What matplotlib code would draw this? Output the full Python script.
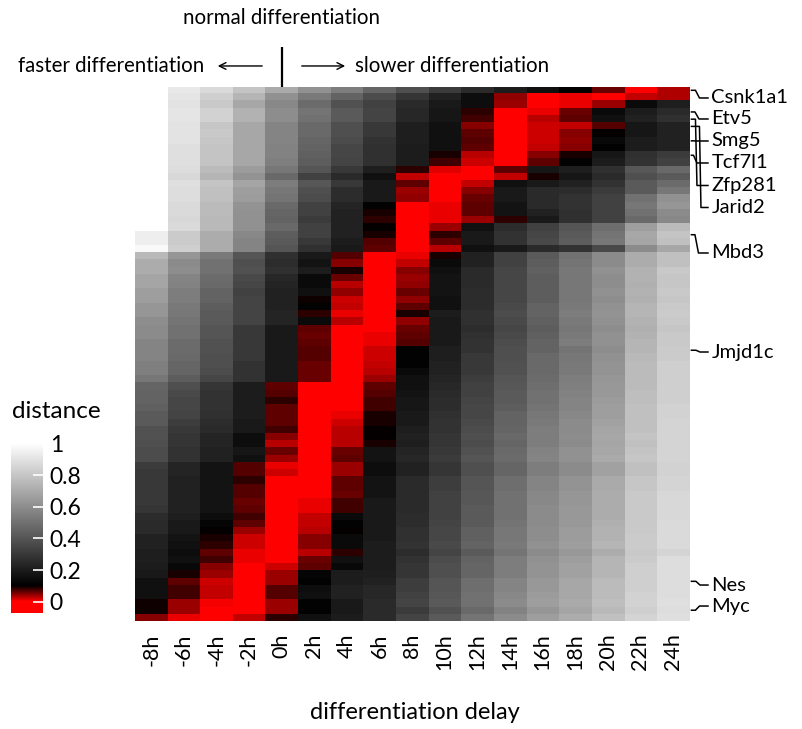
import numpy as np
import matplotlib
matplotlib.use("Agg")
import matplotlib.pyplot as plt
from matplotlib.colors import LinearSegmentedColormap, Normalize

plt.rcParams['font.family'] = ['Lato', 'DejaVu Sans']

nan = np.nan

# differentiation delay of each column
delays = ["-8h", "-6h", "-4h", "-2h", "0h", "2h", "4h", "6h", "8h",
          "10h", "12h", "14h", "16h", "18h", "20h", "22h", "24h"]

# distance per gene (rows) and delay (columns); nan = not computed
distance = [
    [nan, .92, .87, .79, .70, .61, .54, .46, .38, .31, .25, .20, .16, .10, .06, 0, .035],
    [nan, .91, .83, .74, .61, .53, .45, .37, .29, .22, .15, .045, 0, .01, 0, .025, .035],
    [nan, .90, .81, .69, .58, .48, .39, .33, .25, .19, .15, .04, 0, .01, .04, .14, .21],
    [nan, .91, .84, .73, .60, .51, .42, .34, .24, .18, .085, 0, .01, .06, .14, .20, .25],
    [nan, .91, .84, .73, .60, .50, .42, .34, .24, .18, .075, 0, .03, .065, .16, .22, .27],
    [nan, .90, .80, .69, .57, .47, .38, .30, .21, .16, .05, 0, .02, .025, .07, .18, .22],
    [nan, .90, .81, .69, .57, .47, .38, .30, .21, .16, .065, 0, .02, .05, .10, .18, .22],
    [nan, .90, .80, .69, .57, .46, .37, .28, .21, .16, .07, 0, .02, .045, .13, .20, .22],
    [nan, .89, .79, .69, .56, .45, .35, .27, .20, .16, .065, 0, .025, .05, .11, .20, .22],
    [nan, .89, .79, .69, .56, .44, .35, .27, .20, .09, .03, 0, .05, .09, .18, .27, .31],
    [nan, .89, .79, .69, .55, .43, .34, .27, .20, .075, .02, 0, .065, .11, .20, .28, .33],
    [nan, .88, .76, .65, .52, .40, .30, .21, .085, .015, 0, .065, .18, .21, .27, .41, .47],
    [nan, .86, .74, .62, .47, .33, .25, .16, .025, 0, 0, .025, .09, .18, .25, .38, .42],
    [nan, .89, .79, .68, .54, .41, .30, .19, .065, 0, .025, .16, .19, .22, .28, .42, .48],
    [nan, .88, .78, .66, .52, .38, .26, .19, .04, 0, .05, .19, .25, .26, .31, .42, .52],
    [nan, .88, .78, .65, .51, .37, .26, .19, .045, 0, .06, .19, .25, .28, .33, .50, .61],
    [nan, .87, .76, .62, .47, .33, .23, .11, 0, .01, .065, .17, .25, .28, .33, .52, .63],
    [nan, .87, .76, .61, .46, .33, .22, .09, 0, .01, .065, .17, .22, .27, .33, .50, .59],
    [nan, .86, .75, .61, .45, .31, .22, .085, 0, .01, .04, .085, .19, .27, .33, .47, .58],
    [nan, .87, .75, .61, .47, .33, .22, .10, 0, .04, .16, .26, .33, .40, .49, .66, .76],
    [.94, .82, .71, .58, .43, .33, .22, .09, 0, .085, .19, .28, .35, .42, .51, .69, .79],
    [.94, .82, .71, .57, .42, .30, .20, .07, 0, .065, .19, .28, .36, .43, .52, .68, .78],
    [.98, .83, .71, .57, .40, .27, .19, .065, 0, .03, .16, .19, .25, .28, .36, .59, .69],
    [.75, .63, .53, .40, .27, .19, .07, 0, .01, .09, .22, .33, .42, .50, .59, .71, .78],
    [.71, .59, .50, .38, .26, .17, .05, 0, .025, .14, .22, .33, .43, .51, .59, .71, .78],
    [.71, .60, .50, .39, .27, .20, .09, 0, .05, .16, .25, .35, .44, .52, .61, .73, .81],
    [.68, .57, .48, .36, .24, .14, .06, 0, .04, .17, .25, .35, .43, .52, .60, .73, .80],
    [.68, .56, .47, .35, .23, .14, .03, 0, .045, .17, .25, .35, .43, .52, .60, .72, .80],
    [.66, .54, .45, .33, .22, .16, .045, 0, .06, .17, .26, .35, .43, .52, .61, .73, .81],
    [.66, .54, .45, .34, .22, .095, .02, 0, .045, .16, .26, .35, .43, .52, .60, .72, .80],
    [.63, .53, .43, .34, .22, .11, .025, 0, .065, .16, .26, .36, .45, .53, .61, .74, .81],
    [.63, .52, .42, .34, .23, .085, .01, 0, .09, .20, .27, .37, .45, .54, .62, .74, .82],
    [.60, .51, .42, .34, .23, .14, .028, 0, .045, .19, .27, .36, .44, .53, .61, .73, .81],
    [.59, .50, .40, .30, .19, .065, 0, 0, .06, .19, .26, .35, .43, .52, .60, .72, .80],
    [.59, .50, .40, .30, .19, .06, 0, .01, .065, .19, .27, .36, .44, .53, .61, .73, .81],
    [.57, .48, .39, .30, .19, .065, 0, .01, .07, .19, .28, .37, .45, .54, .61, .74, .81],
    [.57, .48, .39, .30, .19, .07, 0, .02, .11, .21, .28, .38, .45, .51, .60, .74, .82],
    [.57, .47, .38, .30, .19, .07, 0, .022, .11, .21, .30, .38, .47, .52, .61, .75, .82],
    [.55, .46, .38, .28, .19, .06, 0, .025, .11, .22, .30, .39, .47, .53, .62, .76, .83],
    [.55, .46, .37, .28, .19, .06, 0, .03, .14, .22, .30, .39, .47, .53, .62, .76, .83],
    [.52, .43, .35, .28, .19, .06, 0, .04, .16, .23, .32, .40, .48, .54, .63, .76, .83],
    [.46, .38, .29, .20, .065, 0, 0, .065, .16, .24, .33, .41, .49, .55, .64, .76, .83],
    [.45, .36, .28, .20, .07, 0, 0, .07, .17, .25, .33, .42, .50, .56, .64, .77, .83],
    [.45, .35, .28, .20, .085, 0, 0, .075, .18, .26, .34, .42, .50, .57, .65, .77, .83],
    [.44, .35, .28, .20, .065, 0, 0, .075, .18, .26, .35, .43, .51, .57, .66, .78, .84],
    [.42, .34, .27, .20, .065, 0, .01, .09, .19, .27, .35, .45, .52, .58, .66, .78, .84],
    [.42, .32, .26, .19, .065, 0, .02, .09, .19, .28, .36, .45, .53, .59, .67, .78, .85],
    [.39, .30, .25, .19, .075, 0, .03, .10, .21, .28, .37, .46, .54, .59, .68, .78, .85],
    [.39, .29, .23, .15, .05, 0, .03, .10, .22, .29, .38, .47, .54, .60, .69, .79, .85],
    [.38, .29, .23, .15, .03, 0, .03, .09, .21, .29, .37, .46, .54, .59, .68, .78, .85],
    [.37, .28, .22, .18, .06, 0, .06, .17, .23, .30, .39, .47, .56, .61, .69, .79, .85],
    [.37, .28, .22, .16, .04, 0, .065, .17, .24, .31, .40, .48, .57, .61, .70, .80, .85],
    [.31, .23, .17, .07, .01, 0, .04, .15, .22, .29, .38, .46, .54, .59, .67, .78, .84],
    [.30, .23, .17, .07, .02, 0, .04, .15, .22, .29, .38, .46, .54, .59, .67, .78, .84],
    [.30, .22, .17, .085, 0, 0, .065, .17, .25, .32, .40, .49, .57, .62, .70, .80, .85],
    [.30, .22, .17, .07, 0, 0, .065, .17, .25, .32, .40, .49, .57, .62, .70, .80, .85],
    [.30, .22, .17, .07, 0, 0, .06, .17, .25, .33, .41, .50, .58, .63, .71, .81, .86],
    [.30, .22, .17, .06, 0, .01, .075, .19, .25, .33, .41, .50, .58, .63, .71, .81, .86],
    [.29, .22, .17, .065, 0, .01, .075, .19, .25, .33, .42, .50, .59, .64, .71, .81, .86],
    [.26, .21, .15, .075, 0, .025, .14, .19, .26, .33, .42, .50, .59, .64, .71, .81, .86],
    [.25, .19, .12, .065, 0, .025, .11, .19, .26, .34, .42, .51, .59, .64, .72, .81, .87],
    [.25, .19, .10, .04, 0, .03, .10, .19, .27, .35, .44, .52, .60, .65, .73, .81, .87],
    [.22, .17, .09, .022, 0, .05, .14, .19, .27, .35, .44, .52, .60, .65, .73, .82, .87],
    [.22, .16, .085, .022, 0, .05, .14, .20, .28, .36, .45, .53, .61, .66, .74, .82, .87],
    [.21, .15, .065, .01, 0, .03, .085, .20, .26, .34, .42, .51, .59, .64, .71, .81, .85],
    [.21, .16, .075, .01, 0, .06, .16, .20, .28, .37, .45, .54, .61, .66, .74, .82, .88],
    [.20, .13, .05, 0, .02, .065, .13, .20, .29, .38, .46, .54, .62, .67, .74, .83, .88],
    [.19, .09, .04, 0, .04, .12, .20, .21, .29, .38, .46, .54, .62, .67, .74, .83, .88],
    [.16, .065, .02, 0, .04, .11, .20, .22, .32, .40, .49, .57, .64, .69, .76, .83, .88],
    [.16, .075, .025, 0, .07, .15, .22, .24, .32, .40, .49, .57, .64, .69, .76, .83, .88],
    [.16, .075, .025, 0, .07, .16, .22, .24, .33, .41, .50, .58, .65, .69, .76, .84, .88],
    [.095, .04, .006, 0, .04, .11, .19, .25, .34, .42, .50, .59, .66, .70, .77, .84, .89],
    [.095, .04, 0, 0, .04, .11, .19, .25, .31, .39, .47, .56, .63, .68, .75, .83, .88],
    [.05, .01, 0, .025, .085, .16, .20, .25, .34, .42, .51, .59, .66, .71, .78, .85, .89],
]

# highlighted genes and the row each one belongs to
gene_names = ["Csnk1a1", "Etv5", "Smg5", "Tcf7l1", "Zfp281", "Jarid2",
              "Mbd3", "Jmjd1c", "Nes", "Myc"]
gene_rows = [0, 3, 7, 9, 4, 5, 20, 36, 68, 72]

cbar_ticks = [0, 0.2, 0.4, 0.6, 0.8, 1]
cbar_labels = ["0", "0.2", "0.4", "0.6", "0.8", "1"]

# red at zero, fading to black, then grey up to white
cmap = LinearSegmentedColormap.from_list(
    "distance", [(0.0, "#ff0000"), (0.1, "#000000"), (1.0, "#ffffff")])
cmap.set_bad("white")
cmap.set_under("#ff0000")
cmap.set_over("#ffffff")
norm = Normalize(vmin=0, vmax=1)

mat = np.array(distance, dtype=float)
n_rows, n_cols = mat.shape

fig = plt.figure(figsize=(8.02, 7.29), dpi=100)
ax = fig.add_axes([0.1683, 0.1481, 0.6910, 0.7330])
ax.imshow(np.ma.masked_invalid(mat), cmap=cmap, norm=norm,
          aspect="auto", interpolation="nearest")
for s in ax.spines.values():
    s.set_visible(False)
ax.set_yticks([])
ax.set_xticks(range(n_cols))
ax.set_xticklabels(delays, rotation=90, fontsize=15.5)
ax.tick_params(axis="x", length=0, pad=9)
ax.set_xlim(-0.5, n_cols - 0.5)
ax.set_ylim(n_rows - 0.5, -0.5)

# pixel helpers for the annotation layout around the heatmap
col_px = 554.2 / n_cols
row_px = 534.3 / n_rows


def px_x(px):
    return (px - 135.0) / col_px - 0.5


def px_y(px):
    return (px - 86.7) / row_px - 0.5


# direction guide above the heatmap, anchored at the 0h column
zero_col = delays.index("0h")
ax.plot([zero_col, zero_col], [-0.5, px_y(47)], color="black", lw=1.6,
        clip_on=False, solid_capstyle="butt")
ax.text(zero_col, px_y(18), "normal differentiation", ha="center",
        va="center", fontsize=14.8)
ax.annotate("", xy=(px_x(215), px_y(66)), xytext=(px_x(265), px_y(66)),
            arrowprops=dict(arrowstyle="->", lw=1.0, color="black",
                            mutation_scale=12),
            annotation_clip=False)
ax.annotate("", xy=(px_x(348), px_y(66)), xytext=(px_x(299), px_y(66)),
            arrowprops=dict(arrowstyle="->", lw=1.0, color="black",
                            mutation_scale=12),
            annotation_clip=False)
ax.text(px_x(204), px_y(66), "faster differentiation", ha="right",
        va="center", fontsize=14.8)
ax.text(px_x(355), px_y(66), "slower differentiation", ha="left",
        va="center", fontsize=14.8)

# gene labels on the right with bent leader lines
label_px = [98, 119, 141, 163, 185.5, 207.5, 253, 352, 585, 606]
bends = [(695.5, 699.5), (695, 699), (693.5, 697), (693.5, 697),
         (695.5, 697), (699.5, 701), (695, 698.5), (696, 700),
         (696, 700), (695.5, 699.5)]
for name, r, ly, (xa, xb) in zip(gene_names, gene_rows, label_px, bends):
    xs = [px_x(691.5), px_x(xa), px_x(xb), px_x(708)]
    ys = [r, r, px_y(ly), px_y(ly)]
    ax.plot(xs, ys, color="black", lw=1.1, clip_on=False)
    ax.text(px_x(711.5), px_y(ly), name, ha="left", va="center",
            fontsize=14.5)

# colour key
cax = fig.add_axes([0.0137, 0.1595, 0.0395, 0.2461])
grad = np.linspace(-0.07, 1.064, 400)
cax.imshow(grad[:, None], cmap=cmap, norm=norm, aspect="auto",
           origin="lower", extent=[0, 1, -0.07, 1.064])
for s in cax.spines.values():
    s.set_visible(False)
cax.set_xticks([])
cax.yaxis.tick_right()
cax.set_yticks(cbar_ticks)
cax.set_yticklabels(cbar_labels)
cax.tick_params(axis="y", direction="in", length=7, width=1.2,
                color="white", pad=5, labelsize=16.5)
fig.text(0.015, 0.4349, "distance", ha="left", va="center", fontsize=17.5)

fig.text(0.5175, 0.0233, "differentiation delay", ha="center",
         va="center", fontsize=17)

fig.savefig("out.png", dpi=100)
